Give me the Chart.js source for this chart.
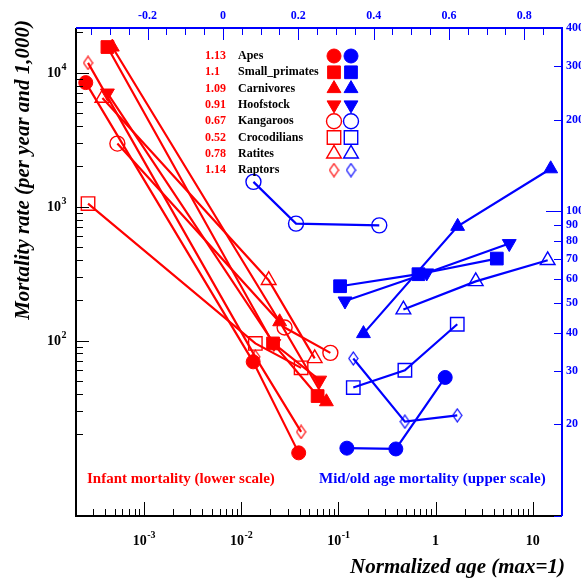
<!DOCTYPE html>
<html>
<head>
<meta charset="utf-8">
<script src="https://cdn.jsdelivr.net/npm/chart.js@4.4.1/dist/chart.umd.min.js"></script>
<style>
html, body { margin: 0; padding: 0; background: #fff; }
#chart { display: block; }
</style>
</head>
<body>
<canvas id="chart" width="581" height="579"></canvas>
<script>
const groups = ['Apes', 'Small_primates', 'Carnivores', 'Hoofstock', 'Kangaroos', 'Crocodilians', 'Ratites', 'Raptors'];
const slopes = ['1.13', '1.1', '1.09', '0.91', '0.67', '0.52', '0.78', '1.14'];

// infant mortality, [normalized age, rate] on lower / left scales
const apesInfant = [[2.52e-4, 8410], [0.0133, 69.3], [0.0391, 14.5]];
const smallPrimatesInfant = [[4.21e-4, 15500], [0.0213, 95.1], [0.0612, 38.5]];
const carnivoresInfant = [[4.73e-4, 15500], [0.0249, 138], [0.0754, 34.9]];
const hoofstockInfant = [[4.21e-4, 7030], [0.0217, 95], [0.0643, 50.6]];
const kangaroosInfant = [[5.33e-4, 2950], [0.0280, 125], [0.0828, 80.9]];
const crocodiliansInfant = [[2.66e-4, 1052], [0.0140, 95.1], [0.0414, 62.5]];
const ratitesInfant = [[3.74e-4, 6450], [0.0192, 282], [0.0571, 73.5]];
const raptorsInfant = [[2.66e-4, 11800], [0.0140, 75.5], [0.0414, 20.8]];

// mid/old age mortality, [normalized age, rate] on upper / right scales
const apesOld = [[0.329, 16.7], [0.459, 16.6], [0.590, 28.5]];
const smallPrimatesOld = [[0.311, 56.8], [0.519, 62.2], [0.727, 70.0]];
const carnivoresOld = [[0.373, 39.7], [0.623, 89.3], [0.870, 138]];
const hoofstockOld = [[0.324, 50.8], [0.541, 62.8], [0.760, 78.4]];
const kangaroosOld = [[0.081, 125], [0.194, 91.2], [0.415, 90.0]];
const crocodiliansOld = [[0.346, 26.4], [0.483, 30.1], [0.622, 42.6]];
const ratitesOld = [[0.479, 47.6], [0.671, 58.9], [0.862, 69.1]];
const raptorsOld = [[0.346, 32.9], [0.483, 20.4], [0.622, 21.4]];

const infantData = [apesInfant, smallPrimatesInfant, carnivoresInfant, hoofstockInfant,
    kangaroosInfant, crocodiliansInfant, ratitesInfant, raptorsInfant];
const oldData = [apesOld, smallPrimatesOld, carnivoresOld, hoofstockOld,
    kangaroosOld, crocodiliansOld, ratitesOld, raptorsOld];

const topTickLabels = ['-0.2', '0', '0.2', '0.4', '0.6', '0.8'];
const rightTickLabels = ['20', '30', '40', '50', '60', '70', '80', '90', '100', '200', '300', '400'];

const RED = '#ff0000';
const BLUE = '#0000ff';
const SERIF = '"Liberation Serif", "Times New Roman", serif';

function diamond(color) {
    const c = document.createElement('canvas');
    c.width = 11;
    c.height = 15;
    const g = c.getContext('2d');
    g.strokeStyle = color;
    g.lineWidth = 1.2;
    g.beginPath();
    g.moveTo(5.5, 1);
    g.lineTo(10, 7.5);
    g.lineTo(5.5, 14);
    g.lineTo(1, 7.5);
    g.closePath();
    g.stroke();
    return c;
}
const redDiamond = diamond(RED);
const blueDiamond = diamond(BLUE);

// marker per group: style, filled, radius, rotation
const markers = [
    { style: 'circle', filled: true, r: 7, rot: 0 },
    { style: 'rect', filled: true, r: 9, rot: 0 },
    { style: 'triangle', filled: true, r: 8, rot: 0 },
    { style: 'triangle', filled: true, r: 8, rot: 180 },
    { style: 'circle', filled: false, r: 7.5, rot: 0 },
    { style: 'rect', filled: false, r: 9.5, rot: 0 },
    { style: 'triangle', filled: false, r: 8.5, rot: 0 },
    { style: 'diamond', filled: false, r: 7, rot: 0 }
];

function makeDataset(points, i, color, xAxis, yAxis) {
    const m = markers[i];
    const style = m.style === 'diamond' ? (color === RED ? redDiamond : blueDiamond) : m.style;
    return {
        label: groups[i],
        data: points.map(p => ({ x: p[0], y: p[1] })),
        showLine: true,
        borderColor: color,
        borderWidth: 2.2,
        pointStyle: style,
        pointRadius: m.r,
        pointRotation: m.rot,
        pointBackgroundColor: m.filled ? color : 'rgba(0,0,0,0)',
        pointBorderColor: color,
        pointBorderWidth: m.filled ? 1 : 1.4,
        xAxisID: xAxis,
        yAxisID: yAxis,
        order: groups[i] === 'Hoofstock' ? 1 : 0
    };
}

const datasets = [];
infantData.forEach((pts, i) => datasets.push(makeDataset(pts, i, RED, 'x', 'y')));
oldData.forEach((pts, i) => datasets.push(makeDataset(pts, i, BLUE, 'x2', 'y2')));

function logTicks(min, max) {
    const out = [];
    for (let e = Math.floor(Math.log10(min)); e <= Math.ceil(Math.log10(max)); e++) {
        for (let k = 1; k <= 9; k++) {
            const v = k * Math.pow(10, e);
            if (v >= min * 0.999 && v <= max * 1.001) out.push({ v, major: k === 1 });
        }
    }
    return out;
}

function drawPow(ctx, exp, x, y, align) {
    ctx.font = 'bold 14px ' + SERIF;
    const wb = ctx.measureText('10').width;
    ctx.font = 'bold 10px ' + SERIF;
    const we = ctx.measureText(exp).width;
    let x0 = x;
    if (align === 'center') x0 = x - (wb + we) / 2;
    if (align === 'right') x0 = x - wb - we;
    ctx.textAlign = 'left';
    ctx.textBaseline = 'alphabetic';
    ctx.font = 'bold 14px ' + SERIF;
    ctx.fillText('10', x0, y);
    ctx.font = 'bold 10px ' + SERIF;
    ctx.fillText(exp, x0 + wb + 0.5, y - 7);
}

const axesPlugin = {
    id: 'rootAxes',
    afterDraw(chart) {
        const ctx = chart.ctx;
        const a = chart.chartArea;
        const sx = chart.scales.x, sy = chart.scales.y, sx2 = chart.scales.x2, sy2 = chart.scales.y2;
        ctx.save();

        // frame: left / bottom black
        ctx.lineWidth = 2;
        ctx.strokeStyle = '#000';
        ctx.beginPath();
        ctx.moveTo(a.left, a.top);
        ctx.lineTo(a.left, a.bottom);
        ctx.lineTo(a.right, a.bottom);
        ctx.stroke();

        // bottom ticks
        ctx.lineWidth = 1;
        logTicks(sx.min, sx.max).forEach(t => {
            const px = Math.round(sx.getPixelForValue(t.v)) + 0.5;
            ctx.beginPath();
            ctx.moveTo(px, a.bottom);
            ctx.lineTo(px, a.bottom - (t.major ? 14 : 7));
            ctx.stroke();
        });
        // left ticks (the reference shows none below 20)
        logTicks(20, sy.max).forEach(t => {
            const py = Math.round(sy.getPixelForValue(t.v)) + 0.5;
            ctx.beginPath();
            ctx.moveTo(a.left, py);
            ctx.lineTo(a.left + (t.major ? 13 : 7), py);
            ctx.stroke();
        });

        ctx.fillStyle = '#000';
        [-3, -2, -1].forEach(e => {
            drawPow(ctx, String(e), sx.getPixelForValue(Math.pow(10, e)), 545, 'center');
        });
        ctx.font = 'bold 14px ' + SERIF;
        ctx.textAlign = 'center';
        ctx.textBaseline = 'alphabetic';
        ctx.fillText('1', sx.getPixelForValue(1), 545);
        ctx.fillText('10', sx.getPixelForValue(10), 545);
        [2, 3, 4].forEach(e => {
            drawPow(ctx, String(e), 66, sy.getPixelForValue(Math.pow(10, e)) + 4.5, 'right');
        });

        // top / right axes in blue
        ctx.strokeStyle = BLUE;
        ctx.fillStyle = BLUE;
        ctx.lineWidth = 2;
        ctx.beginPath();
        ctx.moveTo(a.left, a.top);
        ctx.lineTo(a.right, a.top);
        ctx.lineTo(a.right, a.bottom);
        ctx.stroke();
        ctx.lineWidth = 1;
        for (let i = -7; i <= 18; i++) {
            const v = i * 0.05;
            if (v < sx2.min || v > sx2.max) continue;
            const px = Math.round(sx2.getPixelForValue(v)) + 0.5;
            ctx.beginPath();
            ctx.moveTo(px, a.top);
            ctx.lineTo(px, a.top + (i % 4 === 0 ? 12 : 7));
            ctx.stroke();
        }
        ctx.font = 'bold 12px ' + SERIF;
        ctx.textAlign = 'center';
        ctx.textBaseline = 'alphabetic';
        topTickLabels.forEach(s => {
            ctx.fillText(s, sx2.getPixelForValue(Number(s)), 19);
        });
        logTicks(sy2.min, sy2.max).forEach(t => {
            const py = Math.round(sy2.getPixelForValue(t.v)) + 0.5;
            ctx.beginPath();
            ctx.moveTo(a.right, py);
            ctx.lineTo(a.right - (t.v === 100 ? 16 : 8), py);
            ctx.stroke();
        });
        ctx.textAlign = 'left';
        ctx.textBaseline = 'middle';
        rightTickLabels.forEach(s => {
            ctx.fillText(s, a.right + 4, sy2.getPixelForValue(Number(s)));
        });

        // axis titles
        ctx.fillStyle = '#000';
        ctx.font = 'italic bold 21px ' + SERIF;
        ctx.textAlign = 'right';
        ctx.textBaseline = 'alphabetic';
        ctx.fillText('Normalized age (max=1)', 565, 573);
        ctx.save();
        ctx.translate(29, 20);
        ctx.rotate(-Math.PI / 2);
        ctx.fillText('Mortality rate (per year and 1,000)', 0, 0);
        ctx.restore();

        // scale notes
        ctx.font = 'bold 15px ' + SERIF;
        ctx.textAlign = 'left';
        ctx.textBaseline = 'middle';
        ctx.fillStyle = RED;
        ctx.fillText('Infant mortality (lower scale)', 87, 479);
        ctx.fillStyle = BLUE;
        ctx.fillText('Mid/old age mortality (upper scale)', 319, 479);

        // legend
        ctx.font = 'bold 12px ' + SERIF;
        groups.forEach((g, i) => {
            const y = 56 + i * 16.3;
            ctx.fillStyle = RED;
            ctx.fillText(slopes[i], 205, y);
            ctx.fillStyle = '#000';
            ctx.fillText(g, 238, y);
            [[334, RED], [351, BLUE]].forEach(([x, c]) => {
                const m = markers[i];
                const style = m.style === 'diamond' ? (c === RED ? redDiamond : blueDiamond) : m.style;
                ctx.fillStyle = m.filled ? c : 'rgba(0,0,0,0)';
                ctx.strokeStyle = c;
                ctx.lineWidth = m.filled ? 1 : 1.4;
                Chart.helpers.drawPoint(ctx, {
                    pointStyle: style,
                    radius: m.r,
                    rotation: m.rot,
                    borderWidth: ctx.lineWidth
                }, x, y);
            });
        });
        ctx.restore();
    }
};

new Chart(document.getElementById('chart').getContext('2d'), {
    type: 'scatter',
    data: { datasets },
    options: {
        responsive: false,
        animation: false,
        layout: { padding: { left: 76, top: 28, right: 19, bottom: 63 } },
        plugins: { legend: { display: false }, tooltip: { enabled: false } },
        scales: {
            x: { type: 'logarithmic', position: 'bottom', min: 2e-4, max: 20, display: false },
            y: { type: 'logarithmic', position: 'left', min: 4.9, max: 21500, display: false },
            x2: { type: 'linear', position: 'top', min: -0.39, max: 0.9, display: false },
            y2: { type: 'logarithmic', position: 'right', min: 10, max: 400, display: false }
        }
    },
    plugins: [axesPlugin]
});
</script>
</body>
</html>
